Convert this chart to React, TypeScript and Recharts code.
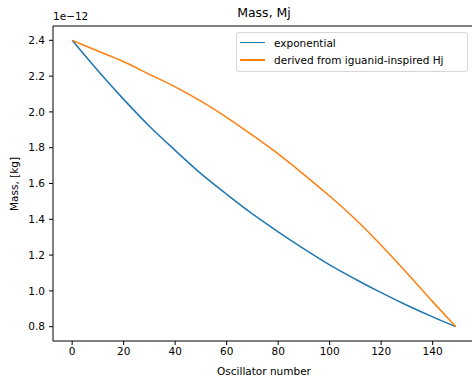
import { LineChart, Line, XAxis, YAxis, ReferenceLine, Label } from "recharts";

const oscillator = [0, 10, 20, 30, 40, 50, 60, 70, 80, 90, 100, 110, 120, 130, 140, 149];
const exponential = [2.4, 2.23, 2.07, 1.92, 1.785, 1.655, 1.54, 1.43, 1.33, 1.235, 1.145, 1.065, 0.99, 0.92, 0.855, 0.8];
const derived = [2.4, 2.34, 2.28, 2.21, 2.14, 2.06, 1.97, 1.87, 1.765, 1.65, 1.53, 1.4, 1.255, 1.1, 0.94, 0.8];

const xTicks = [0, 20, 40, 60, 80, 100, 120, 140];
const yTicks = [0.8, 1.0, 1.2, 1.4, 1.6, 1.8, 2.0, 2.2, 2.4];
const xDomain: [number, number] = [-7.45, 156.45];
const yDomain: [number, number] = [0.72, 2.48];

const series = [
  { key: "exponential", name: "exponential", color: "#1f77b4" },
  { key: "derived", name: "derived from iguanid-inspired Hj", color: "#ff7f0e" },
];

const data = oscillator.map((n, i) => ({
  n,
  exponential: exponential[i],
  derived: derived[i],
}));

const font = "'DejaVu Sans', sans-serif";
const tickStyle = { fill: "#000", fontSize: 10.5, fontFamily: font };

export default function App() {
  return (
    <div
      style={{
        position: "relative",
        width: 472,
        height: 381,
        overflow: "hidden",
        fontFamily: font,
        background: "#fff",
      }}
    >
      <style>{`html,body{margin:0;padding:0;overflow:hidden}`}</style>
      <LineChart
        width={480}
        height={381}
        data={data}
        margin={{ top: 26, right: 5, left: 0, bottom: 0 }}
      >
        <XAxis
          dataKey="n"
          type="number"
          domain={xDomain}
          ticks={xTicks}
          allowDataOverflow
          height={40}
          tick={tickStyle}
          tickSize={4}
          tickMargin={3}
          stroke="#000"
          interval={0}
        >
          <Label
            value="Oscillator number"
            position="insideBottom"
            offset={6}
            style={{ fill: "#000", fontSize: 10.5, fontFamily: font }}
          />
        </XAxis>
        <YAxis
          type="number"
          domain={yDomain}
          ticks={yTicks}
          allowDataOverflow
          width={53}
          tick={tickStyle}
          tickSize={4}
          tickMargin={4}
          stroke="#000"
          interval={0}
          tickFormatter={(v: number) => v.toFixed(1)}
        />
        <ReferenceLine y={yDomain[1]} stroke="#000" />
        {series.map((s) => (
          <Line
            key={s.key}
            dataKey={s.key}
            name={s.name}
            stroke={s.color}
            strokeWidth={1.5}
            dot={false}
            type="monotone"
            isAnimationActive={false}
          />
        ))}
      </LineChart>

      <div style={{ position: "absolute", left: 264, top: 5, transform: "translateX(-50%)", whiteSpace: "nowrap", fontSize: 12.5 }}>
        Mass, Mj
      </div>
      <div style={{ position: "absolute", left: 53, top: 10, fontSize: 10.5 }}>1e−12</div>
      <div
        style={{
          position: "absolute",
          left: 14,
          top: 184,
          fontSize: 10.5,
          whiteSpace: "nowrap",
          transform: "translate(-50%, -50%) rotate(-90deg)",
        }}
      >
        Mass, [kg]
      </div>

      <div
        style={{
          position: "absolute",
          left: 236,
          top: 32,
          width: 232,
          height: 40,
          border: "1px solid #d6d6d6",
          borderRadius: 3,
          background: "rgba(255,255,255,0.8)",
          boxSizing: "border-box",
          fontSize: 10.5,
        }}
      >
        {series.map((s, i) => (
          <div key={s.key} style={{ position: "absolute", left: 3, top: 3 + i * 17.5, height: 13, display: "flex", alignItems: "center" }}>
            <div style={{ width: 25, height: 1.5, background: s.color, marginRight: 9 }} />
            <span>{s.name}</span>
          </div>
        ))}
      </div>
    </div>
  );
}
